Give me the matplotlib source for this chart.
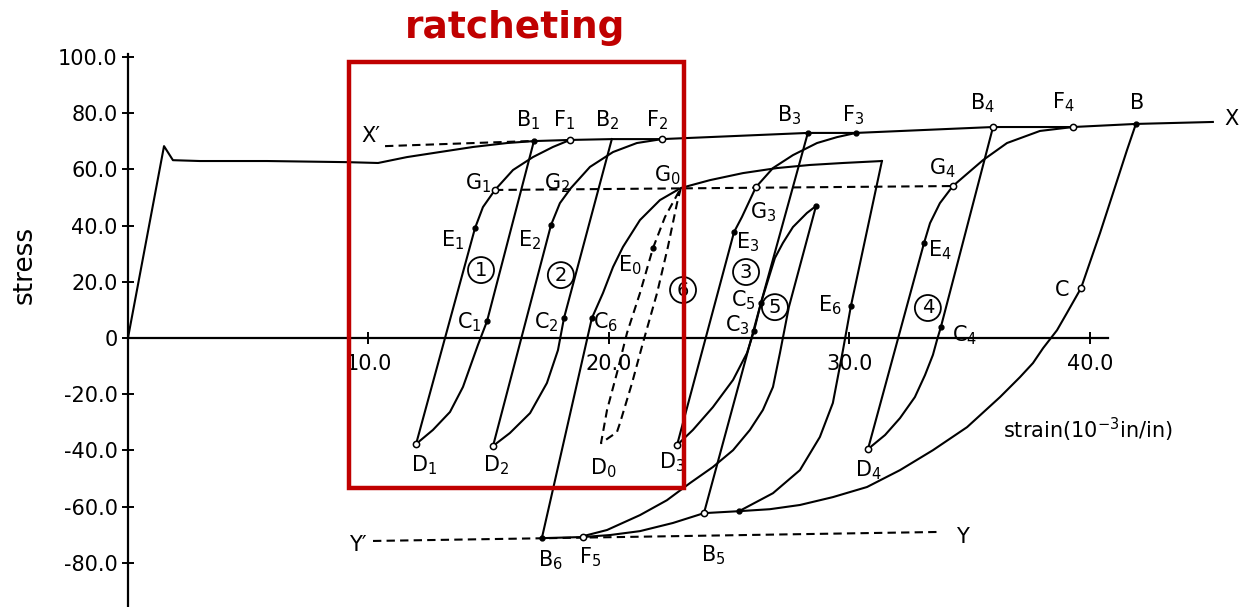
import matplotlib
matplotlib.use("Agg")
import matplotlib.pyplot as plt
from matplotlib.patches import Rectangle

plt.rcParams['font.family'] = ['DejaVu Sans']
plt.rcParams['mathtext.default'] = 'regular'

# ---------------- Curve data (strain in 1e-3 in/in, stress) ----------------
initial_strain = [0, 1.50, 1.87, 2.99, 5.78, 9.11, 10.40, 11.60, 12.97, 14.35, 15.76, 16.88]
initial_stress = [0, 68.3, 63.3, 63.0, 63.0, 62.6, 62.3, 64.4, 66.2, 68.0, 69.4, 70.1]

top_strain = [16.88, 18.38, 20.12, 22.20, 28.27, 30.27, 35.97, 39.29, 41.91, 45.11]
top_stress = [70.1, 70.5, 70.8, 70.8, 73.0, 73.0, 75.1, 75.1, 76.2, 76.9]

xprime_strain = [10.69, 16.72]
xprime_stress = [68.3, 70.1]
yprime_strain = [10.19, 33.68]
yprime_stress = [-72.2, -69.0]
g_level_strain = [15.26, 34.30]
g_level_stress = [52.7, 54.1]

loop1_unload_strain = [16.88, 14.93, 14.55, 14.30, 13.93, 13.39, 12.68, 11.98]
loop1_unload_stress = [70.1, 6.0, -2.5, -8.5, -17.4, -26.3, -32.7, -37.7]
loop1_reload_strain = [11.98, 14.43, 14.76, 15.26, 16.01, 16.84, 17.67, 18.38]
loop1_reload_stress = [-37.7, 39.1, 46.6, 52.7, 59.8, 64.4, 68.0, 70.5]

loop2_unload_strain = [20.12, 18.13, 17.88, 17.42, 16.72, 15.88, 15.18]
loop2_unload_stress = [70.8, 7.1, -4.3, -16.0, -26.7, -33.8, -38.4]
loop2_reload_strain = [15.18, 17.59, 17.96, 18.42, 19.21, 20.17, 21.16, 22.20]
loop2_reload_stress = [-38.4, 40.2, 48.0, 53.4, 60.9, 66.2, 69.4, 70.8]

loop0_strain = [22.99, 22.83, 22.45, 22.00, 21.41, 20.96, 20.46, 20.33, 19.67,
                19.92, 20.33, 20.75, 21.29, 21.83, 22.33, 22.99]
loop0_stress = [53.4, 48.0, 32.4, 16.0, -1.8, -16.0, -30.2, -33.5, -37.4,
                -25.6, -12.5, 1.8, 16.0, 32.0, 43.1, 53.4]

loop6_reload_strain = [17.21, 19.29, 19.75, 20.17, 20.58, 21.29, 22.12, 22.99,
                       24.20, 25.57, 26.99, 28.36, 29.73, 31.35]
loop6_reload_stress = [-71.2, 7.1, 16.0, 25.3, 32.4, 42.0, 49.1, 53.4,
                       56.2, 58.7, 60.5, 61.6, 62.3, 63.0]
loop6_unload_strain = [31.35, 30.06, 29.73, 29.31, 28.77, 27.94, 26.82, 25.41]
loop6_unload_stress = [63.0, 11.4, -4.3, -23.1, -35.2, -47.0, -55.2, -61.6]

loop3_unload_strain = [28.27, 26.32, 26.03, 25.74, 25.16, 24.32, 23.49, 22.83]
loop3_unload_stress = [73.0, 12.5, 2.5, -5.3, -14.9, -24.6, -32.7, -38.1]
loop3_reload_strain = [22.83, 25.20, 25.53, 26.11, 26.82, 27.65, 28.65, 29.48, 30.27]
loop3_reload_stress = [-38.1, 37.7, 43.1, 53.7, 60.5, 65.1, 69.4, 71.5, 73.0]

loop4_unload_strain = [35.97, 33.80, 33.64, 33.47, 33.14, 32.72, 32.10, 31.48, 30.77]
loop4_unload_stress = [75.1, 3.9, -0.7, -6.0, -13.2, -21.0, -28.5, -34.5, -39.5]
loop4_reload_strain = [30.77, 33.10, 33.35, 33.76, 34.30, 35.55, 36.55, 37.92, 39.29]
loop4_reload_stress = [-39.5, 33.8, 40.9, 48.0, 54.1, 63.3, 69.4, 73.7, 75.1]

loop5_load_strain = [23.95, 26.32, 26.90, 27.23, 27.65, 28.23, 28.61]
loop5_load_stress = [-62.3, 12.5, 28.5, 33.8, 39.5, 44.5, 47.0]
loop5_unload_strain = [28.61, 27.48, 27.11, 26.82, 26.40, 25.86, 25.16, 24.32,
                       23.37, 22.41, 21.29, 19.92, 18.92]
loop5_unload_stress = [47.0, 11.0, -5.3, -17.4, -25.6, -32.7, -39.9, -45.9,
                       -51.6, -57.7, -63.0, -68.3, -70.5]

reverse_strain = [41.91, 41.54, 40.96, 40.42, 39.63, 39.04, 38.63, 38.05, 37.63,
                  37.09, 36.26, 34.89, 33.47, 32.10, 30.73, 29.31, 27.94, 26.69,
                  25.41, 23.95, 22.66, 21.29, 20.04, 18.92, 17.21]
reverse_stress = [76.2, 66.9, 51.6, 37.4, 17.8, 8.9, 2.8, -3.6, -8.9,
                  -13.9, -21.0, -31.7, -39.9, -47.0, -53.0, -56.6, -59.4, -60.9,
                  -61.6, -62.3, -65.8, -68.7, -70.1, -70.8, -71.2]

# marked points on the curves
open_strain = [18.38, 22.20, 15.26, 11.98, 15.18, 22.83, 26.11, 35.97, 39.29,
               34.30, 39.63, 30.77, 23.95, 18.92]
open_stress = [70.5, 70.8, 52.7, -37.7, -38.4, -38.1, 53.7, 75.1, 75.1,
               54.1, 17.8, -39.5, -62.3, -70.8]
dot_strain = [16.88, 14.43, 17.59, 21.83, 14.93, 18.13, 19.29, 28.27, 30.27, 25.20,
              26.32, 26.03, 28.61, 30.06, 41.91, 33.10, 33.80, 17.21, 25.41]
dot_stress = [70.1, 39.1, 40.2, 32.0, 6.0, 7.1, 7.1, 73.0, 73.0, 37.7,
              12.5, 2.5, 47.0, 11.4, 76.2, 33.8, 3.9, -71.2, -61.6]

# point labels
label_text = ['B_1', 'F_1', 'B_2', 'F_2', 'G_1', 'G_2', 'G_0', 'E_1', 'E_2', 'E_0',
              'C_1', 'C_2', 'C_6', 'D_1', 'D_2', 'D_0', 'D_3', 'B_3', 'F_3', 'G_3',
              'E_3', 'C_5', 'C_3', 'E_6', 'B_4', 'F_4', 'B', 'G_4', 'E_4', 'C_4',
              'C', 'D_4', 'B_6', 'F_5', 'B_5']
label_strain = [16.63, 18.13, 19.92, 22.00, 14.55, 17.84, 22.41, 13.51, 16.72, 20.87,
                14.18, 17.38, 19.88, 12.31, 15.30, 19.75, 22.62, 27.48, 30.15, 26.40,
                25.78, 25.57, 25.32, 29.19, 35.55, 38.88, 41.95, 33.85, 33.76, 34.80,
                38.84, 30.77, 17.55, 19.21, 24.32]
label_stress = [77.6, 77.6, 77.6, 77.6, 55.2, 55.2, 58.0, 34.9, 34.9, 26.0,
                5.7, 5.7, 5.7, -45.2, -45.2, -46.3, -44.1, 79.4, 79.4, 44.8,
                34.2, 13.5, 4.6, 11.7, 83.6, 84.0, 83.6, 60.5, 31.3, 1.1,
                17.1, -47.0, -79.0, -77.9, -77.2]

line_names = ["X\u2032", "X", "Y\u2032", "Y"]
line_name_strain = [10.10, 45.90, 9.56, 34.68]
line_name_stress = [71.9, 77.9, -73.7, -70.8]

loop_numbers = ['1', '2', '6', '3', '5', '4']
loop_strain = [14.68, 18.00, 23.08, 25.70, 26.90, 33.26]
loop_stress = [24.2, 22.4, 17.1, 23.5, 11.0, 10.7]

# highlighted ratcheting region
box_strain = [9.19, 23.12]
box_stress = [-53.4, 98.2]

x_ticks = [10, 20, 30, 40]
y_ticks = [100, 80, 60, 40, 20, 0, -20, -40, -60, -80]

# ---------------- Figure ----------------
fig = plt.figure(figsize=(12.41, 6.07), dpi=100)
ax = fig.add_axes([0, 0, 1, 1])
ax.set_xlim(-5.32, 46.28)
ax.set_ylim(-95.7, 120.3)

LW = 1.5
DASH = (0, (4, 2.5))


def curve(xs, ys, dashed=False):
    ax.plot(xs, ys, color='black', lw=LW, ls=DASH if dashed else '-',
            solid_joinstyle='round', zorder=2)


curve(initial_strain, initial_stress)
curve(top_strain, top_stress)
curve(xprime_strain, xprime_stress, dashed=True)
curve(yprime_strain, yprime_stress, dashed=True)
curve(g_level_strain, g_level_stress, dashed=True)
curve(loop1_unload_strain, loop1_unload_stress)
curve(loop1_reload_strain, loop1_reload_stress)
curve(loop2_unload_strain, loop2_unload_stress)
curve(loop2_reload_strain, loop2_reload_stress)
curve(loop0_strain, loop0_stress, dashed=True)
curve(loop6_reload_strain, loop6_reload_stress)
curve(loop6_unload_strain, loop6_unload_stress)
curve(loop3_unload_strain, loop3_unload_stress)
curve(loop3_reload_strain, loop3_reload_stress)
curve(loop4_unload_strain, loop4_unload_stress)
curve(loop4_reload_strain, loop4_reload_stress)
curve(loop5_load_strain, loop5_load_stress)
curve(loop5_unload_strain, loop5_unload_stress)
curve(reverse_strain, reverse_stress)

ax.plot(open_strain, open_stress, 'o', ms=4.5, mfc='white', mec='black', mew=1.1, zorder=3)
ax.plot(dot_strain, dot_stress, 'o', ms=3.5, mfc='black', mec='black', zorder=3)

for t, x, y in zip(label_text, label_strain, label_stress):
    ax.text(x, y, '$' + t + '$', fontsize=15, ha='center', va='center')

for t, x, y in zip(line_names, line_name_strain, line_name_stress):
    ax.text(x, y, t, fontsize=15, ha='center', va='center')

for t, x, y in zip(loop_numbers, loop_strain, loop_stress):
    ax.text(x, y, t, fontsize=14, ha='center', va='center',
            bbox=dict(boxstyle='circle,pad=0.18', fc='none', ec='black', lw=1.3))

ax.add_patch(Rectangle((box_strain[0], box_stress[0]), box_strain[1] - box_strain[0],
                       box_stress[1] - box_stress[0], fill=False, ec='#c00000',
                       lw=3.2, zorder=5))

# ---------------- Axes styling ----------------
for side in ['top', 'right']:
    ax.spines[side].set_visible(False)
ax.spines['left'].set_position(('data', 0))
ax.spines['bottom'].set_position(('data', 0))
ax.spines['left'].set_bounds(-96, 101)
ax.spines['bottom'].set_bounds(0, 40.75)
ax.spines['left'].set_linewidth(1.6)
ax.spines['bottom'].set_linewidth(1.6)

ax.set_xticks(x_ticks)
ax.set_xticklabels([f"{v:.1f}" for v in x_ticks])
ax.set_yticks(y_ticks)
ax.set_yticklabels([f"{v:.1f}" if v != 0 else "0" for v in y_ticks])
ax.tick_params(direction='inout', length=9, width=1.4, labelsize=15, pad=3)
ax.tick_params(axis='x', pad=7)

fig.text(25 / 1241, 1 - 265 / 607, 'stress', rotation=90, fontsize=19,
         ha='center', va='center')
fig.text(1088 / 1241, 1 - 430 / 607, r'strain(10$^{-3}$in/in)', fontsize=15,
         ha='center', va='center')
fig.text(515 / 1241, 1 - 28 / 607, 'ratcheting', fontsize=27, fontweight='bold',
         color='#c00000', ha='center', va='center')

fig.savefig('out.png', dpi=100)
